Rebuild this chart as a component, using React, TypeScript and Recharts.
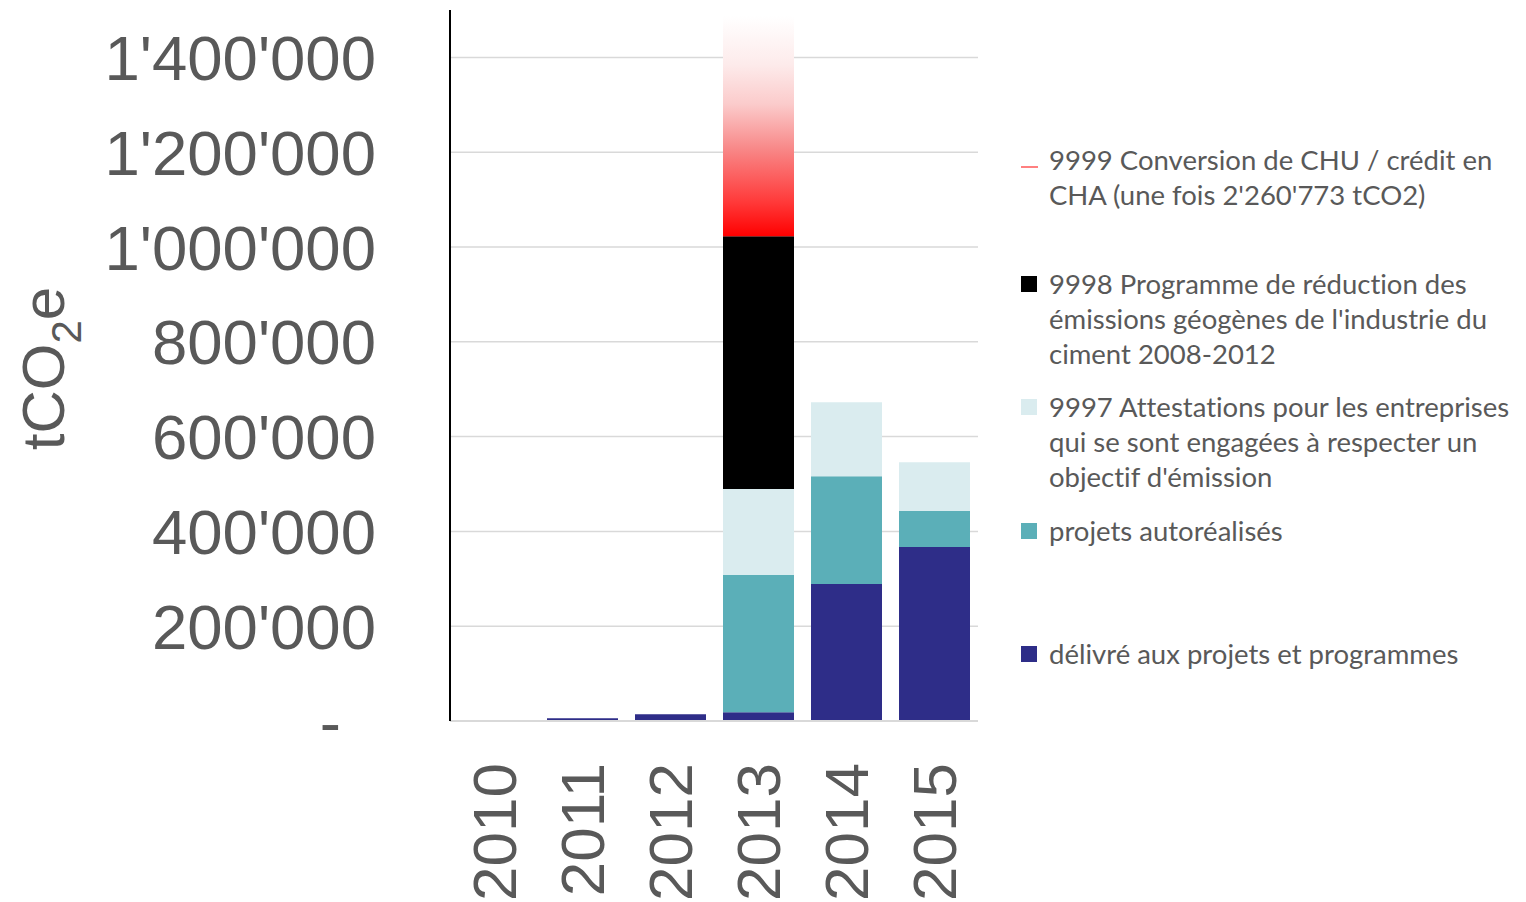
import * as React from "react";
import {
  BarChart,
  Bar,
  XAxis,
  YAxis,
  CartesianGrid,
  Legend,
  Label,
} from "recharts";

const YEARS = ["2010", "2011", "2012", "2013", "2014", "2015"];
const DELIVERED = [0, 5700, 14100, 18300, 288900, 366900];
const SELF_REALISED = [0, 0, 0, 289500, 227700, 75900];
const ATTESTATIONS = [0, 0, 0, 181400, 156000, 103300];
const CEMENT_PROGRAMME = [0, 0, 0, 533400, 0, 0];
const CHU_CONVERSION = [0, 0, 0, 2260773, 0, 0];
const Y_TICKS = [0, 200000, 400000, 600000, 800000, 1000000, 1200000, 1400000];

const LEGEND_LINES = [
  ["9999 Conversion de CHU / crédit en", "CHA (une fois 2'260'773 tCO2)"],
  [
    "9998 Programme de réduction des",
    "émissions géogènes de l'industrie du",
    "ciment 2008-2012",
  ],
  [
    "9997 Attestations pour les entreprises",
    "qui se sont engagées à respecter un",
    "objectif d'émission",
  ],
  ["projets autoréalisés"],
  ["délivré aux projets et programmes"],
];

const COLORS = {
  delivered: "#2E2D88",
  selfRealised: "#5BAFB8",
  attestations: "#DAECEF",
  cement: "#000000",
  conversion: "#FF0000",
};

const LEGEND_MARKERS = ["line", COLORS.cement, COLORS.attestations, COLORS.selfRealised, COLORS.delivered];

const data = YEARS.map((year, i) => ({
  year,
  delivered: DELIVERED[i],
  selfRealised: SELF_REALISED[i],
  attestations: ATTESTATIONS[i],
  cement: CEMENT_PROGRAMME[i],
  conversion: CHU_CONVERSION[i],
}));

const MARGIN = { top: 10, right: 548, left: 0, bottom: 0 };
const AXIS_FONT = "'Liberation Sans', Arial, sans-serif";
const TEXT_GREY = "#595959";

const formatThousands = (v: number) =>
  String(v).replace(/\B(?=(\d{3})+(?!\d))/g, "'");

function YTick({ x, y, payload }: any) {
  const zero = payload.value === 0;
  return (
    <text
      x={zero ? x - 35 : x}
      y={y}
      dy="0.355em"
      textAnchor="end"
      fill={TEXT_GREY}
      fontSize={63.5}
      fontFamily={AXIS_FONT}
    >
      {zero ? "-" : formatThousands(payload.value)}
    </text>
  );
}

function XTick({ x, y, payload }: any) {
  return (
    <text
      x={x}
      y={y}
      dy="0.358em"
      textAnchor="end"
      transform={`rotate(-90 ${x} ${y})`}
      fill={TEXT_GREY}
      fontSize={62}
      fontFamily={AXIS_FONT}
    >
      {payload.value}
    </text>
  );
}

function UnitLabel({ viewBox }: any) {
  const cy = viewBox.y + viewBox.height / 2 + 3;
  return (
    <text
      transform={`translate(64 ${cy}) rotate(-90)`}
      textAnchor="middle"
      fill={TEXT_GREY}
      fontSize={60}
      fontFamily={AXIS_FONT}
    >
      tCO
      <tspan fontSize={42} dy={17}>2</tspan>
      <tspan dy={-17}>e</tspan>
    </text>
  );
}

// bar runs far past the axis top, so clip it to the plot and fade it out
function FadingBar({ x, y, width, height }: any) {
  if (!height || height <= 0) return null;
  const top = Math.max(y, MARGIN.top + 6);
  return (
    <rect x={x} y={top} width={width} height={y + height - top} fill="url(#chuFade)" />
  );
}

function LegendBox() {
  return (
    <div
      style={{
        fontFamily: "Lato, sans-serif",
        fontSize: 27.5,
        lineHeight: "35px",
        color: TEXT_GREY,
        fontVariantLigatures: "none",
      }}
    >
      {LEGEND_LINES.map((lines, i) => (
        <div key={i} style={{ position: "relative", height: 123.5, paddingLeft: 29 }}>
          {LEGEND_MARKERS[i] === "line" ? (
            <div
              style={{
                position: "absolute",
                left: 1,
                top: 24,
                width: 17,
                height: 2,
                background: "#FF8080",
              }}
            />
          ) : (
            <div
              style={{
                position: "absolute",
                left: 1,
                top: 10,
                width: 16,
                height: 16,
                background: LEGEND_MARKERS[i],
              }}
            />
          )}
          {lines.map((line, j) => (
            <div key={j} style={{ whiteSpace: "nowrap" }}>
              {line}
            </div>
          ))}
        </div>
      ))}
    </div>
  );
}

export default function App() {
  return (
    <div style={{ width: 1526, height: 902, background: "#fff" }}>
      <style>{"body{margin:0}"}</style>
      <BarChart width={1526} height={902} data={data} margin={MARGIN} barSize={71}>
        <defs>
          <linearGradient id="chuFade" x1="0" y1="0" x2="0" y2="1">
            <stop offset="0" stopColor="#FFFFFF" />
            <stop offset="0.22" stopColor="#FDEBEB" />
            <stop offset="0.4" stopColor="#FBCBCB" />
            <stop offset="0.6" stopColor="#F88989" />
            <stop offset="0.84" stopColor="#FF3B3B" />
            <stop offset="1" stopColor="#FF0000" />
          </linearGradient>
        </defs>
        <CartesianGrid
          vertical={false}
          horizontalValues={Y_TICKS}
          stroke="#D9D9D9"
          strokeWidth={1.5}
        />
        <XAxis
          dataKey="year"
          height={181}
          interval={0}
          axisLine={{ stroke: "#D9D9D9", strokeWidth: 2 }}
          tickLine={false}
          tickSize={0}
          tickMargin={42}
          tick={<XTick />}
        />
        <YAxis
          type="number"
          domain={[0, 1500000]}
          allowDataOverflow
          ticks={Y_TICKS}
          width={450}
          axisLine={{ stroke: "#000000", strokeWidth: 2 }}
          tickLine={false}
          tickSize={0}
          tickMargin={74}
          tick={<YTick />}
        >
          <Label content={<UnitLabel />} />
        </YAxis>
        <Legend
          layout="vertical"
          align="center"
          verticalAlign="middle"
          wrapperStyle={{ left: 1020, top: 142, width: 506 }}
          content={() => <LegendBox />}
        />
        <Bar dataKey="delivered" stackId="a" fill={COLORS.delivered} isAnimationActive={false} />
        <Bar dataKey="selfRealised" stackId="a" fill={COLORS.selfRealised} isAnimationActive={false} />
        <Bar dataKey="attestations" stackId="a" fill={COLORS.attestations} isAnimationActive={false} />
        <Bar dataKey="cement" stackId="a" fill={COLORS.cement} isAnimationActive={false} />
        <Bar
          dataKey="conversion"
          stackId="a"
          fill={COLORS.conversion}
          shape={<FadingBar />}
          isAnimationActive={false}
        />
      </BarChart>
    </div>
  );
}
